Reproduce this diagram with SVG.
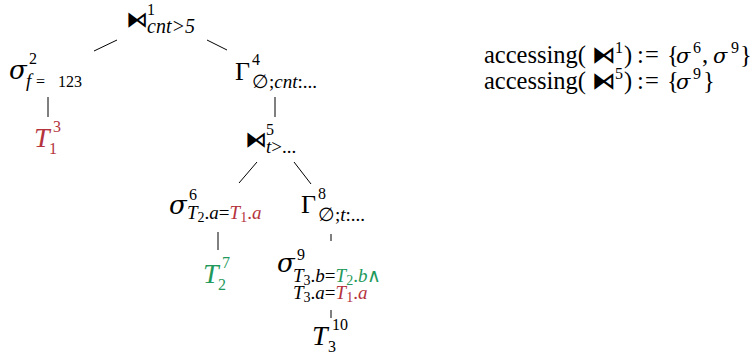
<svg xmlns="http://www.w3.org/2000/svg" width="752" height="362" viewBox="0 0 752 362">
<style>
text{font-family:"Liberation Serif","Times New Roman",serif;fill:#000}
.big{font-size:28px}
.gam{font-size:26px}
.sig{font-family:"DejaVu Serif",serif;font-style:italic;font-size:26px}
.it{font-style:italic}
.sup{font-size:16px}
.sub{font-size:19px}
.sm{font-size:14px}
.num{font-size:16px}
.bt{font-family:"DejaVu Sans",sans-serif;font-size:22px}
.red{fill:#b5333d}
.grn{fill:#1f9a5c}
.acc{font-size:24.5px}
.acc .bt{font-size:24px}
.acc .sig{font-size:21px}
.acc .sup{font-size:16px}
line{stroke:#000;stroke-width:1}
</style>
<g id="connectors">
<line x1="94" y1="51" x2="117" y2="40"/>
<line x1="207" y1="40" x2="227" y2="50"/>
<line x1="48" y1="97" x2="48" y2="117"/>
<line x1="275" y1="97" x2="275" y2="117"/>
<line x1="257" y1="162" x2="239" y2="183"/>
<line x1="294" y1="162" x2="311" y2="184"/>
<line x1="218" y1="232" x2="218" y2="250"/>
<line x1="331" y1="234" x2="331" y2="241"/>
<line x1="331" y1="310" x2="331" y2="318"/>
</g>
<g id="n1">
<text x="126" y="27" class="bt">⧑</text>
<text x="147" y="15" class="sup">1</text>
<text x="147" y="33" class="sub it" style="font-size:20px">cnt&gt;5</text>
</g>
<g id="n2">
<text x="9" y="79" class="sig">σ</text>
<text x="29" y="64" class="sup">2</text>
<text x="26" y="87" class="sub it">f</text>
<text x="36" y="87" class="num">=</text>
<text x="58" y="87" class="num">123</text>
</g>
<g id="n3">
<text x="34" y="147" class="big it red">T</text>
<text x="53" y="132" class="sup red">3</text>
<text x="49" y="154" class="sup red">1</text>
</g>
<g id="n4">
<text x="235" y="80" class="gam">Γ</text>
<text x="252" y="65" class="sup">4</text>
<text x="252" y="88" class="sub">∅;<tspan class="it">cnt</tspan>:...</text>
</g>
<g id="n5">
<text x="245" y="147" class="bt">⧑</text>
<text x="266" y="135" class="sup">5</text>
<text x="266" y="153" class="sub"><tspan class="it">t</tspan>&gt;...</text>
</g>
<g id="n6">
<text x="169" y="214" class="sig">σ</text>
<text x="189" y="200" class="sup">6</text>
<text x="187" y="219" class="sub"><tspan class="it">T</tspan><tspan class="sm" dy="3">2</tspan><tspan dy="-3">.</tspan><tspan class="it">a</tspan>=<tspan class="it red">T</tspan><tspan class="sm red" dy="3">1</tspan><tspan class="red" dy="-3">.</tspan><tspan class="it red">a</tspan></text>
</g>
<g id="n7">
<text x="203" y="283" class="big it grn">T</text>
<text x="222" y="268" class="sup grn">7</text>
<text x="218" y="290" class="sup grn">2</text>
</g>
<g id="n8">
<text x="301" y="213" class="gam">Γ</text>
<text x="318" y="199" class="sup">8</text>
<text x="318" y="221" class="sub">∅;<tspan class="it">t</tspan>:...</text>
</g>
<g id="n9">
<text x="277" y="272" class="sig">σ</text>
<text x="297" y="260" class="sup">9</text>
<text x="293" y="282" class="sub"><tspan class="it">T</tspan><tspan class="sm" dy="3">3</tspan><tspan dy="-3">.</tspan><tspan class="it">b</tspan>=<tspan class="it grn">T</tspan><tspan class="sm grn" dy="3">2</tspan><tspan class="grn" dy="-3">.</tspan><tspan class="it grn">b</tspan><tspan class="grn">∧</tspan></text>
<text x="293" y="299" class="sub"><tspan class="it">T</tspan><tspan class="sm" dy="3">3</tspan><tspan dy="-3">.</tspan><tspan class="it">a</tspan>=<tspan class="it red">T</tspan><tspan class="sm red" dy="3">1</tspan><tspan class="red" dy="-3">.</tspan><tspan class="it red">a</tspan></text>
</g>
<g id="n10">
<text x="312" y="345" class="big it">T</text>
<text x="332" y="330" class="sup">10</text>
<text x="328" y="352" class="sup">3</text>
</g>
<g id="accessing">
<text class="acc"><tspan x="484" y="63">accessing(</tspan><tspan class="bt" x="592" y="63">⧑</tspan><tspan class="sup" x="615" y="53">1</tspan><tspan x="624" y="63">)</tspan><tspan x="637" y="63">:</tspan><tspan x="645" y="63">=</tspan><tspan x="667" y="63">{</tspan><tspan class="sig" x="676" y="63">σ</tspan><tspan class="sup" x="693" y="53">6</tspan><tspan x="702" y="63">,</tspan><tspan class="sig" x="713" y="63">σ</tspan><tspan class="sup" x="731" y="53">9</tspan><tspan x="740" y="63">}</tspan></text>
<text class="acc"><tspan x="484" y="89">accessing(</tspan><tspan class="bt" x="592" y="89">⧑</tspan><tspan class="sup" x="615" y="79">5</tspan><tspan x="624" y="89">)</tspan><tspan x="637" y="89">:</tspan><tspan x="645" y="89">=</tspan><tspan x="667" y="89">{</tspan><tspan class="sig" x="676" y="89">σ</tspan><tspan class="sup" x="693" y="79">9</tspan><tspan x="703" y="89">}</tspan></text>
</g>
</svg>
